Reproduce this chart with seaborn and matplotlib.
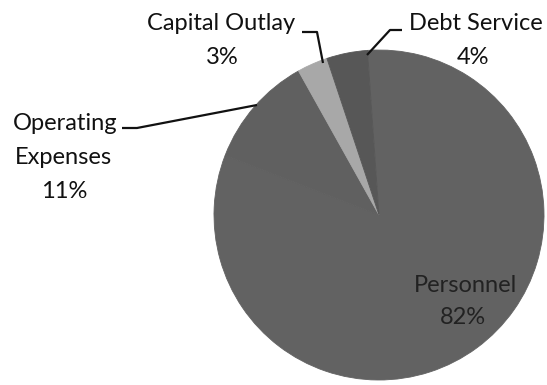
import matplotlib
matplotlib.use("Agg")
import matplotlib.pyplot as plt
import seaborn as sns

# budget shares (clockwise from the top)
categories = ["Personnel", "Operating Expenses", "Capital Outlay", "Debt Service"]
shares = [82, 11, 3, 4]
colors = ["#626262", "#606060", "#a8a8a8", "#575757"]

sns.set_theme(style="white")
plt.rcParams["font.family"] = ["Lato", "DejaVu Sans"]

# 1 data unit = 1 pixel, pie centre at pixel (379, 215)
cx, cy = 379, 215
fig = plt.figure(figsize=(5.47, 3.85), dpi=100)
ax = fig.add_axes([0, 0, 1, 1])

wedges, _ = ax.pie(shares, colors=colors, radius=165, startangle=94, counterclock=False)
for w, c in zip(wedges, colors):
    w.set_edgecolor(c)   # hide the seams between slices
    w.set_linewidth(0.6)

# pie() resets the limits, so set them afterwards
ax.set_xlim(-cx, 547 - cx)
ax.set_ylim(-(385 - cy), cy)
ax.set_aspect("equal")
ax.axis("off")


def px(x, y):
    # pixel position (from top-left) -> data coords
    return x - cx, cy - y


fs = 17
txt = "#111111"

# outside labels
for (x, y), s in [((221, 23), "Capital Outlay"), ((222, 57), "3%"),
                  ((476, 23), "Debt Service"), ((473, 57), "4%"),
                  ((65, 124), "Operating"), ((63, 158), "Expenses"), ((64, 191), "11%")]:
    ax.text(*px(x, y), s, ha="center", va="center", fontsize=fs, color=txt)

# label inside the big slice
ax.text(*px(465, 285), "Personnel", ha="center", va="center", fontsize=fs, color="#222222")
ax.text(*px(463, 317), "82%", ha="center", va="center", fontsize=fs, color="#222222")

# leader lines
leaders = [
    [(302, 32), (317, 32), (323, 63)],
    [(367, 55), (390, 30), (402, 30)],
    [(122, 128), (137, 128), (257, 105)],
]
for pts in leaders:
    xs, ys = zip(*[px(x, y) for x, y in pts])
    ax.plot(xs, ys, color="#111111", lw=1.6, solid_capstyle="butt")

fig.savefig("out.png", dpi=100, facecolor="white")
